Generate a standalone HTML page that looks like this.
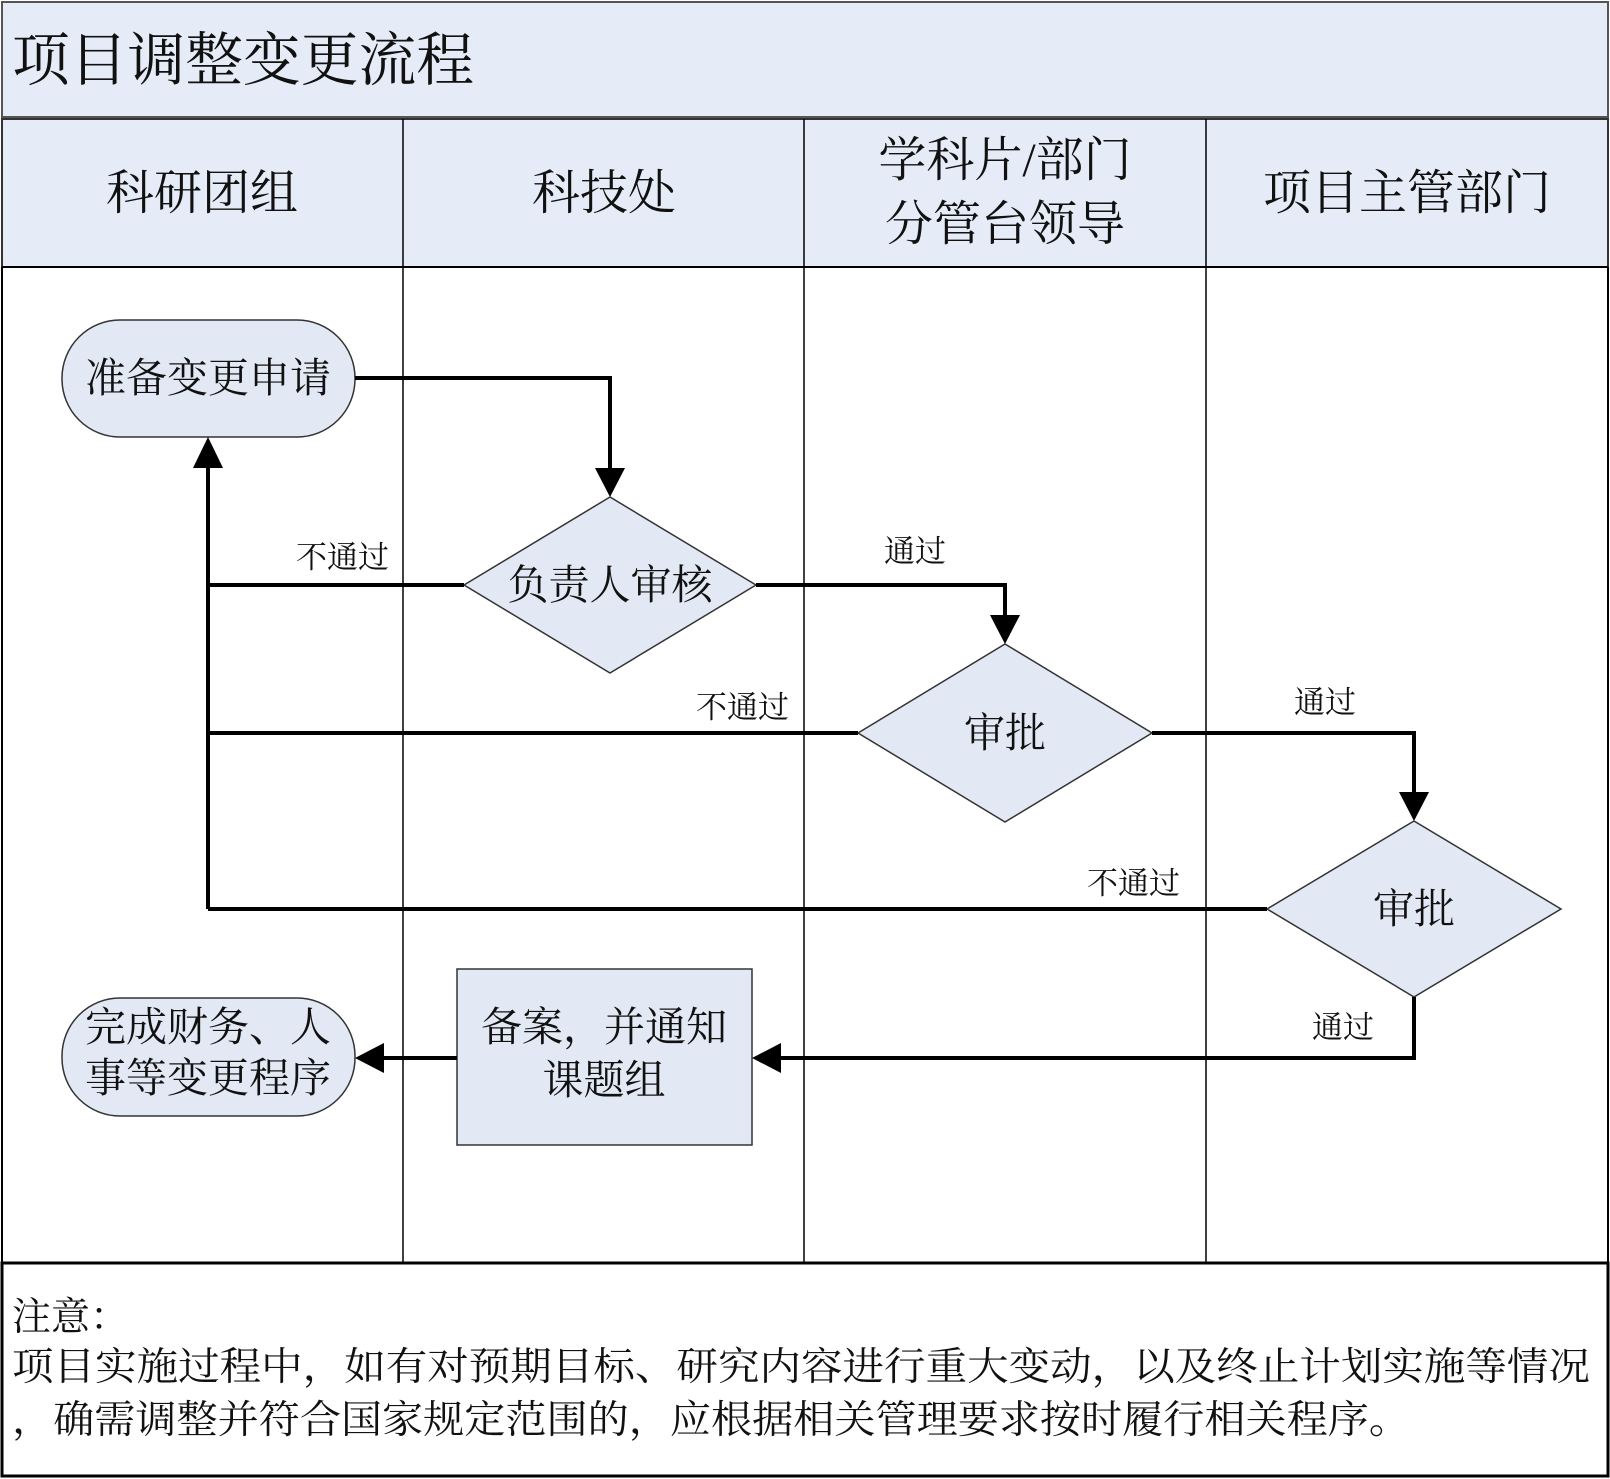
<!DOCTYPE html>
<html><head><meta charset="utf-8"><style>
html,body{margin:0;padding:0;background:#fff}
svg{display:block}
text{font-family:"Liberation Serif","Noto Serif CJK SC",serif;fill:#111}
</style></head><body>
<svg width="1610" height="1479" viewBox="0 0 1610 1479" xmlns="http://www.w3.org/2000/svg">
<!-- title -->
<rect x="2" y="2" width="1606" height="115" fill="#e5ecf7" stroke="#555" stroke-width="2"/>
<text x="12" y="80" font-size="58" textLength="462" lengthAdjust="spacingAndGlyphs">项目调整变更流程</text>
<!-- header -->
<rect x="2" y="119" width="1606" height="148" fill="#e5ecf7" stroke="#333" stroke-width="2"/>
<line x1="2" y1="267" x2="1608" y2="267" stroke="#000" stroke-width="2"/>
<g stroke="#000" stroke-width="1.5">
<line x1="403" y1="119" x2="403" y2="1263"/>
<line x1="804" y1="119" x2="804" y2="1263"/>
<line x1="1206" y1="119" x2="1206" y2="1263"/>
</g>
<line x1="2" y1="267" x2="2" y2="1263" stroke="#000" stroke-width="2"/>
<line x1="1608" y1="267" x2="1608" y2="1263" stroke="#000" stroke-width="2"/>
<g font-size="48" text-anchor="middle">
<text x="202" y="209">科研团组</text>
<text x="604" y="209">科技处</text>
<text x="1005" y="176">学科片/部门</text>
<text x="1005" y="240">分管台领导</text>
<text x="1407" y="209">项目主管部门</text>
</g>
<!-- shapes -->
<g fill="#e2e8f4" stroke="#333" stroke-width="1.5">
<rect x="62" y="320" width="293" height="117" rx="58"/>
<polygon points="464,585 610,497 756,585 610,673"/>
<polygon points="858,733 1005,644 1152,733 1005,822"/>
<polygon points="1267,909 1414,821 1561,909 1414,997"/>
<rect x="62" y="998" width="293" height="118" rx="58"/>
<rect x="457" y="969" width="295" height="176"/>
</g>
<g font-size="41" text-anchor="middle">
<text x="208" y="392">准备变更申请</text>
<text x="610" y="599">负责人审核</text>
<text x="1005" y="747">审批</text>
<text x="1414" y="923">审批</text>
<text x="208" y="1041">完成财务、人</text>
<text x="208" y="1092">事等变更程序</text>
<text x="604" y="1041">备案，并通知</text>
<text x="604" y="1094">课题组</text>
</g>
<!-- connectors -->
<g fill="none" stroke="#000" stroke-width="4">
<polyline points="355,378 610,378 610,480"/>
<polygon points="595,468 625,468 610,497" fill="#000" stroke="none"/>
<line x1="464" y1="585" x2="208" y2="585"/>
<line x1="208" y1="909" x2="208" y2="455"/>
<polygon points="193,468 223,468 208,437" fill="#000" stroke="none"/>
<polyline points="756,585 1005,585 1005,626"/>
<polygon points="990,615 1020,615 1005,644" fill="#000" stroke="none"/>
<line x1="858" y1="733" x2="208" y2="733"/>
<polyline points="1152,733 1414,733 1414,803"/>
<polygon points="1399,792 1429,792 1414,821" fill="#000" stroke="none"/>
<line x1="1267" y1="909" x2="208" y2="909"/>
<polyline points="1414,997 1414,1058 770,1058"/>
<polygon points="781,1043 781,1073 752,1058" fill="#000" stroke="none"/>
<line x1="457" y1="1058" x2="373" y2="1058"/>
<polygon points="384,1043 384,1073 355,1058" fill="#000" stroke="none"/>
</g>
<g font-size="31">
<text x="296" y="568">不通过</text>
<text x="884" y="562">通过</text>
<text x="696" y="718">不通过</text>
<text x="1294" y="713">通过</text>
<text x="1087" y="894">不通过</text>
<text x="1312" y="1038">通过</text>
</g>
<!-- note -->
<rect x="2" y="1263" width="1606" height="213" fill="#fff" stroke="#000" stroke-width="3"/>
<g font-size="39">
<text x="12" y="1330">注意：</text>
<text x="12" y="1380" textLength="1578" lengthAdjust="spacingAndGlyphs">项目实施过程中，如有对预期目标、研究内容进行重大变动，以及终止计划实施等情况</text>
<text x="12" y="1433" textLength="1398" lengthAdjust="spacingAndGlyphs">，确需调整并符合国家规定范围的，应根据相关管理要求按时履行相关程序。</text>
</g>
</svg>
</body></html>
